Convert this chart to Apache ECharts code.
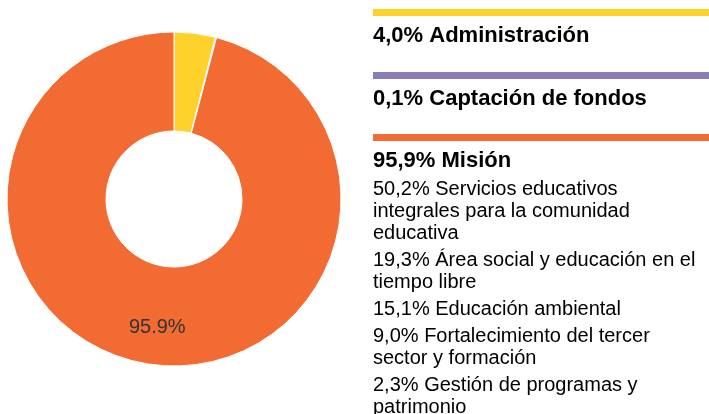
<!DOCTYPE html>
<html>
<head>
<meta charset="utf-8">
<script src="https://cdn.jsdelivr.net/npm/echarts@6/dist/echarts.min.js"></script>
<style>
  html, body { margin: 0; padding: 0; background: #fff; }
  #chart { width: 709px; height: 414px; }
</style>
</head>
<body>
<div id="chart"></div>
<script>
// areas de gasto
const categories = ['Administración', 'Captación de fondos', 'Misión'];
const values = [4.0, 0.1, 95.9];
const colors = ['#FED22B', '#8A7BB9', '#F26B32'];

// desglose de Misión (saltos de linea como en el original)
const missionLabels = [
  'Servicios educativos\nintegrales para la comunidad\neducativa',
  'Área social y educación en el\ntiempo libre',
  'Educación ambiental',
  'Fortalecimiento del tercer\nsector y formación',
  'Gestión de programas y\npatrimonio'
];
const missionValues = [50.2, 19.3, 15.1, 9.0, 2.3];

const pct = v => v.toFixed(1).replace('.', ',') + '%';

const chart = echarts.init(document.getElementById('chart'));

const pieData = categories.map((name, i) => ({
  name: name,
  value: values[i],
  itemStyle: { color: colors[i] }
}));

// columna derecha
const graphics = [];
const blockTop = [9, 72, 134];
categories.forEach((name, i) => {
  graphics.push({
    type: 'rect',
    shape: { x: 373, y: blockTop[i], width: 336, height: 7 },
    style: { fill: colors[i] }
  });
  graphics.push({
    type: 'text',
    style: {
      x: 373, y: blockTop[i] + 27,
      text: pct(values[i]) + ' ' + name,
      font: 'bold 22px "Liberation Sans", Arial, sans-serif',
      fill: '#000',
      verticalAlign: 'middle'
    }
  });
});

let y = 178;
missionLabels.forEach((name, i) => {
  const text = pct(missionValues[i]) + ' ' + name;
  graphics.push({
    type: 'text',
    style: {
      x: 373, y: y,
      text: text,
      lineHeight: 22,
      font: '20px "Liberation Sans", Arial, sans-serif',
      fill: '#000',
      verticalAlign: 'top'
    }
  });
  y += text.split('\n').length * 22 + 5;
});

const option = {
  animation: false,
  series: [
    {
      type: 'pie',
      center: [174, 199],
      radius: [68, 167],
      startAngle: 90,
      clockwise: true,
      silent: true,
      itemStyle: { borderColor: '#fff', borderWidth: 1 },
      label: { show: false },
      labelLine: { show: false },
      data: pieData
    },
    {
      // solo para colocar la etiqueta
      type: 'pie',
      center: [174, 199],
      radius: [68, 186],
      startAngle: 90,
      clockwise: true,
      silent: true,
      itemStyle: { color: 'transparent' },
      label: {
        position: 'inside',
        fontSize: 20,
        fontFamily: '"Liberation Sans", Arial, sans-serif',
        color: '#333',
        formatter: p => p.value > 50 ? p.value.toFixed(1) + '%' : ''
      },
      labelLine: { show: false },
      data: values.map((v, i) => ({ name: categories[i], value: v }))
    }
  ],
  graphic: graphics
};

chart.setOption(option);
</script>
</body>
</html>
